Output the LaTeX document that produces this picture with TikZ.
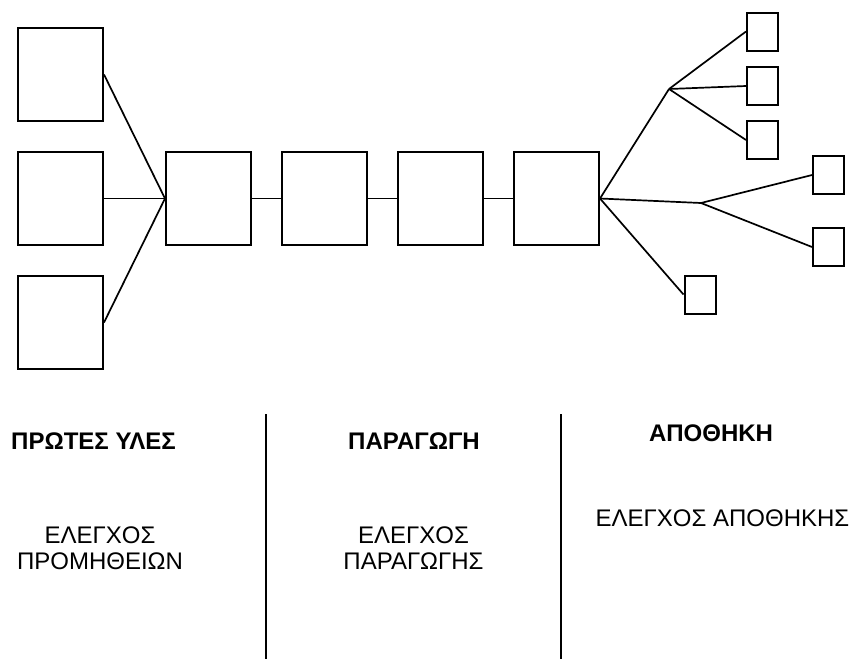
\documentclass[tikz,border=0pt]{standalone}
\usepackage{fontspec}
\setmainfont{Liberation Sans}
\begin{document}
\begin{tikzpicture}[x=1pt,y=-1pt,
  bigbox/.style={draw,line width=2pt,rectangle,inner sep=0pt,minimum width=85pt,minimum height=93pt},
  smallbox/.style={draw,line width=2pt,rectangle,inner sep=0pt,minimum width=31pt,minimum height=38pt},
  conn/.style={line width=1.7pt},
  divider/.style={line width=1.6pt},
  head/.style={font=\fontsize{24}{27}\selectfont\bfseries,inner sep=0pt},
  body/.style={font=\fontsize{24}{26}\selectfont,inner sep=0pt,align=center}]
\useasboundingbox (0,0) rectangle (853,659);
% left boxes
\node[bigbox] (l1) at (60.5,74.5) {};
\node[bigbox] (l2) at (60.5,198.5) {};
\node[bigbox] (l3) at (60.5,322.5) {};
% main chain
\node[bigbox] (a) at (208.5,198.5) {};
\node[bigbox] (b) at (324.5,198.5) {};
\node[bigbox] (c) at (440.5,198.5) {};
\node[bigbox] (d) at (556.5,198.5) {};
% small boxes
\node[smallbox] (s1) at (762.5,31.5) {};
\node[smallbox] (s2) at (762.5,86) {};
\node[smallbox] (s3) at (762.5,140) {};
\node[smallbox] (s4) at (828.5,175) {};
\node[smallbox] (s5) at (828.5,247) {};
\node[smallbox] (s6) at (700,294.5) {};
\coordinate (j1) at (669,89);
\coordinate (j2) at (701,203);
% connectors
\draw[conn] (l1.east) -- (a.west);
\draw[conn] (l2.east) -- (a.west);
\draw[conn] (l3.east) -- (a.west);
\draw[conn] (a) -- (b);
\draw[conn] (b) -- (c);
\draw[conn] (c) -- (d);
\draw[conn] (d.east) -- (j1);
\draw[conn] (d.east) -- (j2);
\draw[conn] (d.east) -- (s6.west);
\draw[conn] (j1) -- (s1.west);
\draw[conn] (j1) -- (s2.west);
\draw[conn] (j1) -- (s3.west);
\draw[conn] (j2) -- (s4.west);
\draw[conn] (j2) -- (s5.west);
% dividers
\coordinate (v1t) at (266,414);
\coordinate (v1b) at (266,659);
\coordinate (v2t) at (561,414);
\coordinate (v2b) at (561,659);
\draw[divider] (v1t) -- (v1b);
\draw[divider] (v2t) -- (v2b);
% texts
\node[head] (h1) at (93.5,441) {ΠΡΩΤΕΣ ΥΛΕΣ};
\node[head] (h2) at (414,441) {ΠΑΡΑΓΩΓΗ};
\node[head] (h3) at (711,433.5) {ΑΠΟΘΗΚΗ};
\node[body] (t1) at (100,548) {ΕΛΕΓΧΟΣ\\ΠΡΟΜΗΘΕΙΩΝ};
\node[body] (t2) at (413.5,548) {ΕΛΕΓΧΟΣ\\ΠΑΡΑΓΩΓΗΣ};
\node[body] (t3) at (722.5,518.5) {ΕΛΕΓΧΟΣ ΑΠΟΘΗΚΗΣ};
\end{tikzpicture}
\end{document}
